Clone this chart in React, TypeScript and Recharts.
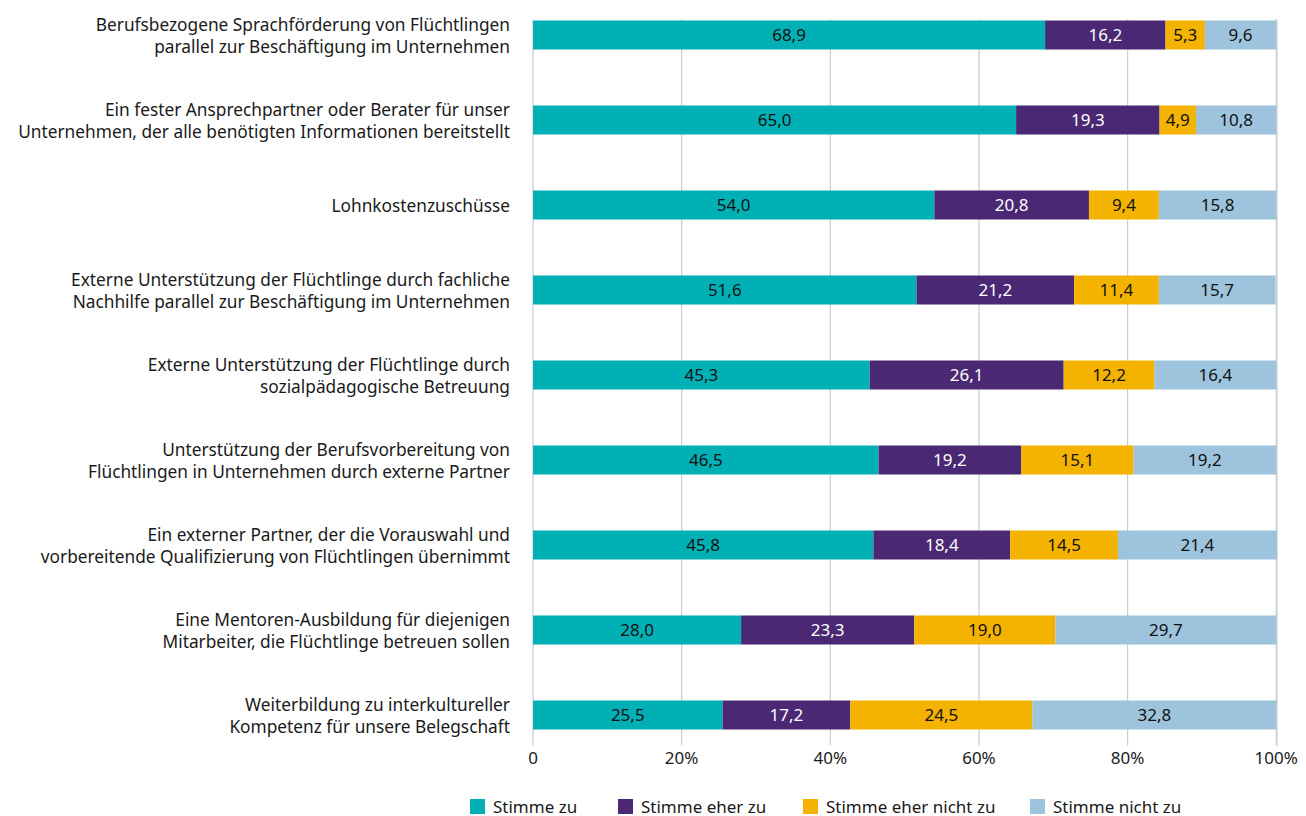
import { BarChart, Bar, XAxis, YAxis, CartesianGrid, LabelList } from "recharts";

const categories = [
  ["Berufsbezogene Sprachförderung von Flüchtlingen", "parallel zur Beschäftigung im Unternehmen"],
  ["Ein fester Ansprechpartner oder Berater für unser", "Unternehmen, der alle benötigten Informationen bereitstellt"],
  ["Lohnkostenzuschüsse"],
  ["Externe Unterstützung der Flüchtlinge durch fachliche", "Nachhilfe parallel zur Beschäftigung im Unternehmen"],
  ["Externe Unterstützung der Flüchtlinge durch", "sozialpädagogische Betreuung"],
  ["Unterstützung der Berufsvorbereitung von", "Flüchtlingen in Unternehmen durch externe Partner"],
  ["Ein externer Partner, der die Vorauswahl und", "vorbereitende Qualifizierung von Flüchtlingen übernimmt"],
  ["Eine Mentoren-Ausbildung für diejenigen", "Mitarbeiter, die Flüchtlinge betreuen sollen"],
  ["Weiterbildung zu interkultureller", "Kompetenz für unsere Belegschaft"],
];

const stimmeZu = [68.9, 65.0, 54.0, 51.6, 45.3, 46.5, 45.8, 28.0, 25.5];
const stimmeEherZu = [16.2, 19.3, 20.8, 21.2, 26.1, 19.2, 18.4, 23.3, 17.2];
const stimmeEherNichtZu = [5.3, 4.9, 9.4, 11.4, 12.2, 15.1, 14.5, 19.0, 24.5];
const stimmeNichtZu = [9.6, 10.8, 15.8, 15.7, 16.4, 19.2, 21.4, 29.7, 32.8];

const xTicks = [0, 20, 40, 60, 80, 100];

const series = [
  { key: "zu", name: "Stimme zu", color: "#00b0b5", text: "#111" },
  { key: "eherZu", name: "Stimme eher zu", color: "#4a2873", text: "#fff" },
  { key: "eherNicht", name: "Stimme eher nicht zu", color: "#f3b300", text: "#111" },
  { key: "nicht", name: "Stimme nicht zu", color: "#9dc4dc", text: "#111" },
];

const data = categories.map((c, i) => ({
  cat: String(i),
  zu: stimmeZu[i],
  eherZu: stimmeEherZu[i],
  eherNicht: stimmeEherNichtZu[i],
  nicht: stimmeNichtZu[i],
}));

const FONT = "'Noto Sans', sans-serif";
const fmt = (v: any) => Number(v).toFixed(1).replace(".", ",");

function CatTick(props: any) {
  const { x, y, payload } = props;
  const lines: string[] = categories[Number(payload.value)];
  const lh = 22;
  const start = y - ((lines.length - 1) * lh) / 2;
  return (
    <text x={x} y={start} textAnchor="end" fontSize={17.3} fill="#1a1a1a" fontFamily={FONT} dominantBaseline="central">
      {lines.map((l, i) => (
        <tspan key={i} x={x} y={start + i * lh}>
          {l}
        </tspan>
      ))}
    </text>
  );
}

function GridLine(props: any) {
  return <line key={props.key} x1={props.x1} x2={props.x2} y1={props.y1 + 27} y2={props.y2 - 12} stroke="#c9cdd1" strokeWidth={1.2} />;
}

const legendLeft = [470, 618, 803, 1030];

export default function App() {
  return (
    <div style={{ position: "absolute", left: 0, top: 0, width: 1306, height: 816, background: "#fff", fontFamily: FONT }}>
      <BarChart
        width={1306}
        height={790}
        data={data}
        layout="vertical"
        margin={{ top: -7.5, right: 29, bottom: 2.5, left: 0 }}
      >
        <CartesianGrid horizontal={false} vertical={GridLine as any} />
        <XAxis
          type="number"
          domain={[0, 100]}
          ticks={xTicks}
          interval={0}
          axisLine={false}
          tickLine={false}
          height={30}
          tickMargin={2}
          tickFormatter={(v: number) => (v === 0 ? "0" : `${v}%`)}
          tick={{ fontSize: 17, fill: "#1a1a1a", fontFamily: FONT, dy: -14 }}
        />
        <YAxis
          type="category"
          dataKey="cat"
          width={533}
          axisLine={false}
          tickLine={false}
          tickSize={0}
          tickMargin={23}
          tick={<CatTick />}
        />
        {series.map((s) => (
          <Bar key={s.key} dataKey={s.key} stackId="a" fill={s.color} barSize={29} isAnimationActive={false}>
            <LabelList
              dataKey={s.key}
              position="center"
              formatter={fmt}
              fill={s.text}
              fontSize={17}
              fontFamily={FONT}
            />
          </Bar>
        ))}
      </BarChart>
      {series.map((s, i) => (
        <div
          key={s.key}
          style={{ position: "absolute", top: 795, left: legendLeft[i], display: "flex", alignItems: "center", fontSize: 17, color: "#1a1a1a", whiteSpace: "nowrap" }}
        >
          <span style={{ width: 15, height: 15, background: s.color, marginRight: 8, display: "inline-block" }} />
          <span>{s.name}</span>
        </div>
      ))}
    </div>
  );
}
